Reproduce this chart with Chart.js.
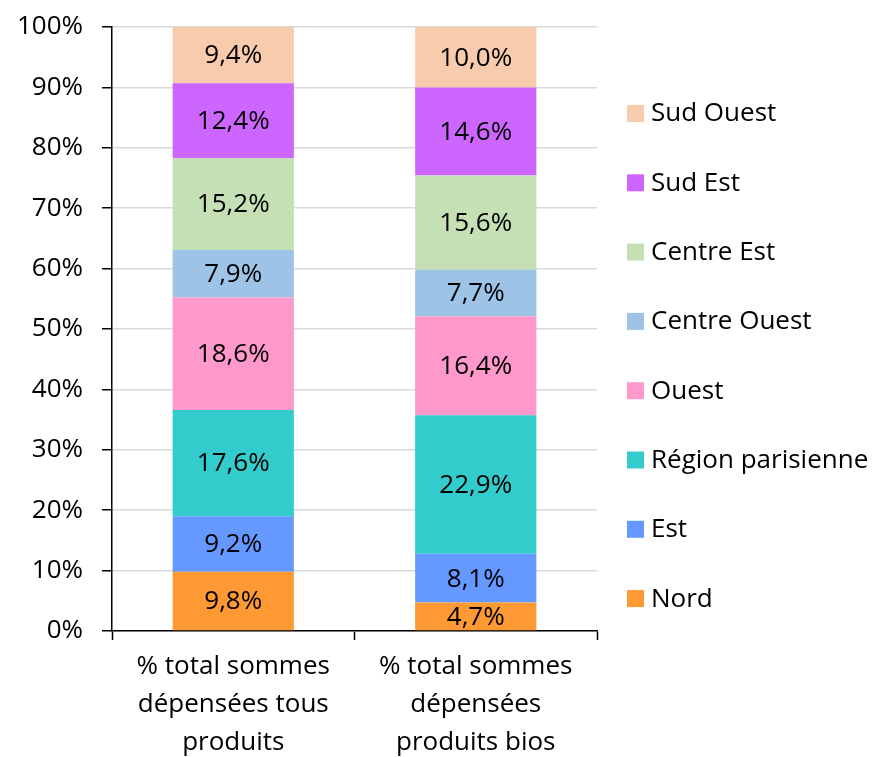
<!DOCTYPE html>
<html>
<head>
<meta charset="utf-8">
<script src="https://cdn.jsdelivr.net/npm/chart.js@4/dist/chart.umd.min.js"></script>
<style>
  html, body { margin: 0; padding: 0; background: #fff; }
  #wrap { width: 875px; height: 757px; }
</style>
</head>
<body>
<div id="wrap"><canvas id="chart" width="875" height="757"></canvas></div>
<script>
// Data
const categories = [
    ['% total sommes', 'dépensées tous', 'produits'],
    ['% total sommes', 'dépensées', 'produits bios']
];
const regions = ['Nord', 'Est', 'Région parisienne', 'Ouest', 'Centre Ouest', 'Centre Est', 'Sud Est', 'Sud Ouest'];
const tousProduits = [9.8, 9.2, 17.6, 18.6, 7.9, 15.2, 12.4, 9.4];
const produitsBios = [4.7, 8.1, 22.9, 16.4, 7.7, 15.6, 14.6, 10.0];
const regionColors = ['#FF9933', '#6699FF', '#33CCCC', '#FF99CC', '#9DC3E6', '#C5E0B4', '#CC66FF', '#F8CBAD'];
const yTicks = [0, 10, 20, 30, 40, 50, 60, 70, 80, 90, 100];

const FONT = "'Open Sans', 'Liberation Sans', sans-serif";
const FSIZE = 26;

const datasets = regions.map((name, i) => ({
    label: name,
    data: [tousProduits[i], produitsBios[i]],
    backgroundColor: regionColors[i],
    borderWidth: 0,
    barPercentage: 0.5,
    categoryPercentage: 1
}));

// Value labels in the middle of each segment
const segmentLabels = {
    id: 'segmentLabels',
    afterDatasetsDraw(chart) {
        const ctx = chart.ctx;
        ctx.save();
        ctx.font = FSIZE + 'px ' + FONT;
        ctx.fillStyle = '#000';
        ctx.textAlign = 'center';
        ctx.textBaseline = 'middle';
        chart.data.datasets.forEach((ds, di) => {
            chart.getDatasetMeta(di).data.forEach((bar, i) => {
                const top = Math.max(bar.y, chart.chartArea.top);
                const mid = (top + bar.base) / 2;
                ctx.fillText(ds.data[i].toFixed(1).replace('.', ',') + '%', bar.x, mid + 1);
            });
        });
        ctx.restore();
    }
};

// Legend on the right, top item = last series
const sideLegend = {
    id: 'sideLegend',
    afterDraw(chart) {
        const ctx = chart.ctx;
        ctx.save();
        ctx.font = FSIZE + 'px ' + FONT;
        ctx.textAlign = 'left';
        ctx.textBaseline = 'middle';
        const n = regions.length;
        for (let k = 0; k < n; k++) {
            const i = n - 1 - k;
            const y = 113 + k * 69.3;
            ctx.fillStyle = regionColors[i];
            ctx.fillRect(627, y - 8, 17, 17);
            ctx.fillStyle = '#000';
            ctx.fillText(regions[i], 651, y + 1);
        }
        ctx.restore();
    }
};

new Chart(document.getElementById('chart'), {
    type: 'bar',
    data: { labels: categories, datasets: datasets },
    options: {
        responsive: false,
        animation: false,
        layout: { padding: { top: 27, right: 278, left: 0, bottom: 0 } },
        plugins: {
            legend: { display: false },
            tooltip: { enabled: false }
        },
        scales: {
            x: {
                stacked: true,
                grid: {
                    drawOnChartArea: false,
                    drawTicks: true,
                    tickLength: 9,
                    tickColor: '#000',
                    tickWidth: 1.5
                },
                border: { color: '#000', width: 1.5 },
                ticks: {
                    color: '#000',
                    font: { family: FONT, size: FSIZE, lineHeight: 1.45 },
                    padding: 8,
                    maxRotation: 0,
                    autoSkip: false
                },
                afterFit(scale) { scale.height = 126; }
            },
            y: {
                stacked: true,
                min: 0,
                max: 100,
                afterBuildTicks(scale) { scale.ticks = yTicks.map(v => ({ value: v })); },
                grid: {
                    color: '#d9d9d9',
                    lineWidth: 1.5,
                    tickColor: '#000',
                    tickLength: 10,
                    tickWidth: 1.5
                },
                border: { color: '#000', width: 1.5 },
                ticks: {
                    color: '#000',
                    font: { family: FONT, size: FSIZE },
                    padding: 19,
                    callback: v => v + '%'
                },
                afterFit(scale) {
                    scale.width = 112;
                    scale.paddingTop = 0;
                    scale.paddingBottom = 0;
                }
            }
        }
    },
    plugins: [segmentLabels, sideLegend]
});
</script>
</body>
</html>
